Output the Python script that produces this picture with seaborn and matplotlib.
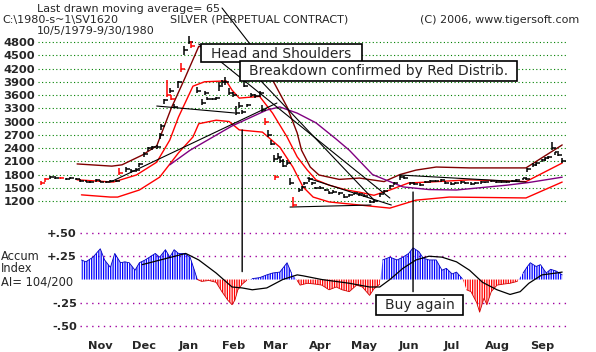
import numpy as np
import pandas as pd
import matplotlib
matplotlib.use("Agg")
import matplotlib.pyplot as plt
import matplotlib.dates as mdates
from matplotlib.patches import ConnectionPatch, Rectangle
from matplotlib.lines import Line2D
import seaborn as sns

sns.set_style("white")
plt.rcParams["font.family"] = ["DejaVu Sans"]
plt.rcParams["hatch.linewidth"] = 0.9

# ------------------------------------------------------------------ data
bar_dates = [
    "1979-10-05", "1979-10-08", "1979-10-11", "1979-10-15", "1979-10-18", "1979-10-22", "1979-10-25", "1979-10-29",
    "1979-11-01", "1979-11-05", "1979-11-08", "1979-11-12", "1979-11-15", "1979-11-19", "1979-11-22", "1979-11-26", "1979-11-28",
    "1979-12-03", "1979-12-06", "1979-12-10", "1979-12-12", "1979-12-15", "1979-12-18", "1979-12-21", "1979-12-24", "1979-12-26", "1979-12-27", "1979-12-29", "1979-12-31",
    "1980-01-02", "1980-01-03", "1980-01-05", "1980-01-08", "1980-01-10", "1980-01-12", "1980-01-15", "1980-01-17", "1980-01-21", "1980-01-24", "1980-01-26", "1980-01-28", "1980-01-31",
    "1980-02-03", "1980-02-05", "1980-02-07", "1980-02-09", "1980-02-12", "1980-02-15", "1980-02-17", "1980-02-19", "1980-02-21", "1980-02-22", "1980-02-24", "1980-02-27",
    "1980-03-01", "1980-03-04", "1980-03-06", "1980-03-08", "1980-03-10", "1980-03-12", "1980-03-14", "1980-03-15", "1980-03-17", "1980-03-18", "1980-03-20", "1980-03-23", "1980-03-25", "1980-03-27", "1980-03-31",
    "1980-04-02", "1980-04-04", "1980-04-07", "1980-04-09", "1980-04-11", "1980-04-15", "1980-04-18", "1980-04-21", "1980-04-24", "1980-04-28",
    "1980-05-01", "1980-05-05", "1980-05-08", "1980-05-12", "1980-05-15", "1980-05-19", "1980-05-22", "1980-05-26", "1980-05-29",
    "1980-06-02", "1980-06-05", "1980-06-09", "1980-06-12", "1980-06-16", "1980-06-19", "1980-06-23", "1980-06-26", "1980-06-30",
    "1980-07-03", "1980-07-07", "1980-07-10", "1980-07-14", "1980-07-17", "1980-07-21", "1980-07-24", "1980-07-28", "1980-07-31",
    "1980-08-04", "1980-08-07", "1980-08-11", "1980-08-14", "1980-08-18", "1980-08-21", "1980-08-25", "1980-08-28",
    "1980-09-02", "1980-09-04", "1980-09-05", "1980-09-09", "1980-09-11", "1980-09-15", "1980-09-17", "1980-09-19", "1980-09-22", "1980-09-24", "1980-09-26", "1980-09-29",
]
bar_high = [
    1650, 1720, 1760, 1760, 1740, 1720, 1750, 1720,
    1700, 1680, 1660, 1690, 1680, 1660, 1670, 1680, 1950,
    1960, 1920, 1950, 2060, 2300, 2420, 2440, 2460, 2750, 2950, 3500, 3940,
    3760, 3600, 3400, 3920, 4320, 4700, 4930, 4820, 3780, 3500, 3680, 3550, 3540,
    3560, 3900, 3950, 4000, 3750, 3660, 3350, 3440, 3260, 3940, 3400, 3640,
    3620, 3680, 3380, 3080, 2800, 2580, 2240, 1790, 2290, 2200, 2150, 2130, 1720, 1290, 1500,
    1540, 1640, 1740, 1640, 1520, 1530, 1480, 1420, 1440, 1400,
    1360, 1350, 1390, 1380, 1360, 1230, 1220, 1380, 1450,
    1560, 1630, 1790, 1760, 1630, 1620, 1600, 1660, 1680,
    1680, 1700, 1650, 1630, 1640, 1650, 1640, 1620, 1640,
    1650, 1640, 1670, 1650, 1660, 1650, 1680, 1690,
    1730, 1720, 1950, 2050, 2080, 2150, 2200, 2220, 2540, 2320, 2280, 2170,
]
bar_low = [
    1560, 1640, 1700, 1710, 1690, 1680, 1700, 1670,
    1640, 1620, 1610, 1630, 1620, 1600, 1620, 1630, 1800,
    1860, 1840, 1860, 1980, 2200, 2340, 2360, 2380, 2600, 2800, 3400, 3560,
    3640, 3480, 3300, 3760, 4120, 4500, 4750, 4660, 3640, 3380, 3600, 3480, 3480,
    3480, 3700, 3820, 3830, 3600, 3560, 3150, 3300, 3180, 3780, 3330, 3560,
    3540, 3560, 3220, 2920, 2650, 2470, 2080, 1680, 2150, 2050, 1970, 2010, 1560, 1065, 1400,
    1480, 1560, 1630, 1560, 1470, 1470, 1420, 1360, 1380, 1340,
    1270, 1290, 1330, 1320, 1300, 1150, 1150, 1300, 1380,
    1480, 1560, 1680, 1690, 1560, 1560, 1540, 1600, 1610,
    1620, 1640, 1590, 1570, 1580, 1590, 1590, 1570, 1580,
    1590, 1600, 1620, 1600, 1610, 1610, 1620, 1640,
    1670, 1680, 1860, 1970, 1990, 2080, 2100, 2150, 2350, 2250, 2220, 2060,
]
bar_close = [
    1600, 1700, 1740, 1730, 1720, 1700, 1730, 1690,
    1660, 1640, 1630, 1670, 1640, 1620, 1650, 1660, 1830,
    1920, 1870, 1900, 2040, 2260, 2400, 2420, 2420, 2700, 2900, 3480, 3600,
    3700, 3500, 3340, 3900, 4200, 4620, 4800, 4700, 3700, 3420, 3650, 3520, 3500,
    3530, 3800, 3900, 3900, 3650, 3600, 3200, 3350, 3220, 3800, 3370, 3600,
    3580, 3650, 3250, 3000, 2700, 2500, 2150, 1750, 2200, 2100, 2000, 2050, 1600, 1100, 1450,
    1520, 1600, 1700, 1600, 1500, 1500, 1450, 1380, 1400, 1380,
    1300, 1330, 1380, 1350, 1320, 1180, 1200, 1350, 1420,
    1530, 1600, 1750, 1720, 1600, 1590, 1570, 1630, 1650,
    1660, 1680, 1610, 1590, 1610, 1620, 1610, 1590, 1610,
    1620, 1620, 1650, 1630, 1640, 1630, 1660, 1670,
    1720, 1710, 1920, 2020, 2050, 2120, 2180, 2200, 2400, 2300, 2250, 2100,
]
red_bar_dates = ["1979-10-05", "1979-10-08", "1979-10-18", "1979-11-28", "1979-12-31", "1980-01-03",
                 "1980-01-10", "1980-01-17", "1980-03-08", "1980-03-15", "1980-03-27"]

# upper band (maroon)
upper_dates = ["1979-10-30", "1979-11-23", "1979-11-30", "1979-12-14", "1979-12-24", "1980-01-03", "1980-01-12",
               "1980-01-22", "1980-02-02", "1980-02-19", "1980-03-04", "1980-03-13", "1980-03-23", "1980-03-30",
               "1980-04-02", "1980-04-08", "1980-04-14", "1980-04-28", "1980-05-12", "1980-05-29", "1980-06-09",
               "1980-06-20", "1980-07-04", "1980-07-27", "1980-09-04", "1980-09-16", "1980-09-29"]
upper_vals = [2040, 1990, 2020, 2240, 2450, 3300, 3950, 4700, 4650, 4450, 4150, 3940, 3330, 2740,
              2350, 1970, 1790, 1690, 1720, 1640, 1800, 1900, 1970, 1950, 1950, 2200, 2470]
# moving average (red)
ma_dates = ["1979-10-30", "1979-11-24", "1979-12-10", "1979-12-24", "1980-01-02", "1980-01-08", "1980-01-18",
            "1980-01-26", "1980-02-10", "1980-02-14", "1980-02-19", "1980-03-04", "1980-03-13", "1980-03-23",
            "1980-03-30", "1980-04-06", "1980-04-12", "1980-04-21", "1980-05-03", "1980-05-12", "1980-05-22",
            "1980-06-02", "1980-06-15", "1980-06-29", "1980-07-27", "1980-09-04", "1980-09-29"]
ma_vals = [1680, 1630, 1790, 2080, 2580, 3100, 3800, 3900, 3920, 3710, 3530, 3570, 3190, 2650,
           2200, 1900, 1680, 1560, 1450, 1400, 1330, 1450, 1610, 1630, 1680, 1640, 2060]
# lower band (red)
lower_dates = ["1979-11-02", "1979-11-22", "1979-11-27", "1979-12-12", "1979-12-26", "1980-01-08", "1980-01-18",
               "1980-01-22", "1980-02-03", "1980-02-12", "1980-02-19", "1980-03-06", "1980-03-18", "1980-03-27",
               "1980-04-03", "1980-04-10", "1980-04-21", "1980-05-12", "1980-06-02", "1980-06-20", "1980-07-13",
               "1980-09-04", "1980-09-29"]
lower_vals = [1340, 1290, 1290, 1450, 1740, 2290, 2650, 2950, 3030, 3000, 2810, 2760, 2420, 1970,
              1520, 1290, 1180, 1110, 1040, 1220, 1290, 1270, 1630]
# 65-day moving average (purple)
ma65_dates = ["1980-01-02", "1980-01-16", "1980-02-14", "1980-03-09", "1980-03-18", "1980-03-30", "1980-04-12",
              "1980-04-26", "1980-05-05", "1980-05-21", "1980-06-11", "1980-06-29", "1980-07-18", "1980-08-22",
              "1980-09-06", "1980-09-29"]
ma65_vals = [2020, 2350, 2900, 3260, 3330, 3190, 2970, 2600, 2350, 1800, 1520, 1460, 1450, 1560, 1620, 1740]

# hand-drawn trend lines: (start date, start price, end date, end price)
trend_lines = [
    ("1980-01-22", 4755, "1980-06-02", 1268),
    ("1980-03-05", 3917, "1980-05-22", 1223),
    ("1979-11-22", 1630, "1980-03-16", 3419),
    ("1979-12-24", 3351, "1980-02-16", 3193),
    ("1980-03-25", 1064, "1980-05-20", 1110),
    ("1980-04-06", 1721, "1980-06-03", 1110),
    ("1980-06-09", 1789, "1980-09-04", 1630),
]

# Accumulation index
ai_dates = ["1979-11-02", "1979-11-05", "1979-11-10", "1979-11-15", "1979-11-18", "1979-11-22", "1979-11-25",
            "1979-11-29", "1979-12-02", "1979-12-05", "1979-12-09", "1979-12-12", "1979-12-16", "1979-12-19",
            "1979-12-23", "1979-12-26", "1979-12-30", "1980-01-02", "1980-01-05", "1980-01-08", "1980-01-12",
            "1980-01-16", "1980-01-19", "1980-01-21", "1980-01-24", "1980-01-29", "1980-02-03", "1980-02-07",
            "1980-02-11", "1980-02-14", "1980-02-16", "1980-02-18", "1980-02-21", "1980-02-24", "1980-02-28",
            "1980-03-04", "1980-03-09", "1980-03-13", "1980-03-18", "1980-03-23", "1980-03-26", "1980-03-30",
            "1980-04-01", "1980-04-06", "1980-04-12", "1980-04-16", "1980-04-21", "1980-04-26", "1980-04-30",
            "1980-05-05", "1980-05-10", "1980-05-14", "1980-05-19", "1980-05-22", "1980-05-26", "1980-05-28",
            "1980-06-02", "1980-06-07", "1980-06-11", "1980-06-15", "1980-06-18", "1980-06-22", "1980-06-25",
            "1980-06-29", "1980-07-04", "1980-07-08", "1980-07-11", "1980-07-15", "1980-07-18", "1980-07-22",
            "1980-07-25", "1980-07-28", "1980-08-01", "1980-08-03", "1980-08-06", "1980-08-08", "1980-08-11",
            "1980-08-15", "1980-08-19", "1980-08-24", "1980-08-29", "1980-09-02", "1980-09-05", "1980-09-07",
            "1980-09-11", "1980-09-14", "1980-09-18", "1980-09-21", "1980-09-25", "1980-09-29"]
ai_vals = [0.21, 0.19, 0.24, 0.33, 0.21, 0.13, 0.28,
           0.18, 0.19, 0.18, 0.10, 0.18, 0.21, 0.24,
           0.28, 0.24, 0.32, 0.24, 0.32, 0.28, 0.28,
           0.24, 0.10, 0.00, -0.02, -0.01, -0.03, -0.13,
           -0.22, -0.27, -0.22, -0.11, -0.05, -0.01, 0.01,
           0.02, 0.05, 0.07, 0.08, 0.18, 0.07, -0.01,
           -0.06, -0.04, -0.05, -0.06, -0.11, -0.08, -0.11,
           -0.13, -0.06, -0.08, -0.17, -0.10, -0.05, 0.21,
           0.24, 0.21, 0.24, 0.28, 0.34, 0.30, 0.23,
           0.21, 0.21, 0.10, 0.12, 0.06, 0.08, 0.01,
           -0.11, -0.13, -0.25, -0.35, -0.20, -0.27, -0.13,
           -0.06, -0.05, -0.04, -0.02, 0.07, 0.14, 0.18,
           0.14, 0.16, 0.07, 0.11, 0.09, 0.05]
ai_ma_dates = ["1979-12-14", "1980-01-13", "1980-01-22", "1980-02-03", "1980-02-14", "1980-02-21", "1980-02-28",
               "1980-03-09", "1980-03-20", "1980-03-30", "1980-04-03", "1980-04-16", "1980-05-05", "1980-05-19",
               "1980-05-26", "1980-06-02", "1980-06-11", "1980-06-20", "1980-06-29", "1980-07-08", "1980-07-18",
               "1980-07-27", "1980-08-05", "1980-08-15", "1980-08-24", "1980-08-31", "1980-09-06", "1980-09-15",
               "1980-09-25", "1980-09-29"]
ai_ma_vals = [0.16, 0.28, 0.21, 0.07, -0.08, -0.09, -0.11, -0.09, 0.00, 0.05, 0.04, 0.00, -0.04, -0.08,
              -0.08, 0.00, 0.12, 0.21, 0.25, 0.24, 0.19, 0.10, -0.03, -0.11, -0.16, -0.13, -0.04, 0.05,
              0.07, 0.08]

price_ticks = [1200, 1500, 1800, 2100, 2400, 2700, 3000, 3300, 3600, 3900, 4200, 4500, 4800]
ai_ticks = [-0.50, -0.25, 0.25, 0.50]
ai_tick_labels = ["-.50", "-.25", "+.25", "+.50"]

# ------------------------------------------------------------------ layout
W, H = 596, 352
fig = plt.figure(figsize=(W / 100, H / 100), dpi=100)
fig.patch.set_facecolor("white")


def fx(x):
    return x / W


def fy(y):
    return 1 - y / H


ax_p = fig.add_axes([fx(38), fy(215), (567 - 38) / W, (215 - 30) / H])
ax_a = fig.add_axes([fx(80), fy(335), (567 - 80) / W, (335 - 225) / H])

ORIGIN = pd.Timestamp("1979-11-01")
PX_PER_DAY = 1.448


def px_date(px):
    return mdates.date2num(ORIGIN + pd.Timedelta(days=(px - 80) / PX_PER_DAY))


ax_p.set_xlim(px_date(38), px_date(567))
ax_a.set_xlim(px_date(80), px_date(567))
ax_p.set_ylim(884, 5072)
ax_a.set_ylim(-0.595, 0.585)

for ax in (ax_p, ax_a):
    for s in ax.spines.values():
        s.set_visible(False)
    ax.set_facecolor("none")

# ------------------------------------------------------------------ price panel
ax_p.set_yticks(price_ticks)
ax_p.set_yticklabels([str(t) for t in price_ticks], fontsize=8.2, fontweight="bold")
ax_p.tick_params(axis="y", length=0, pad=2.2)
ax_p.set_xticks([])
for t in price_ticks:
    ax_p.axhline(t, color="#008000", lw=0.8, ls=(0, (1, 2.2)), zorder=0)

bars = pd.DataFrame({"date": pd.to_datetime(bar_dates), "high": bar_high,
                     "low": bar_low, "close": bar_close})
bars["red"] = bars["date"].isin(pd.to_datetime(red_bar_dates))
for is_red, grp in bars.groupby("red"):
    col = "#ff0000" if is_red else "#000000"
    ax_p.vlines(grp["date"], grp["low"], grp["high"], colors=col, lw=1.1, zorder=4)
    ax_p.plot(grp["date"], grp["close"], ls="none", marker=1, ms=3, mew=1.1, color=col, zorder=4)

line_specs = [
    (upper_dates, upper_vals, "#800000"),
    (ma_dates, ma_vals, "#ff0000"),
    (lower_dates, lower_vals, "#ff0000"),
    (ma65_dates, ma65_vals, "#800080"),
]
for d, v, c in line_specs:
    sns.lineplot(x=pd.to_datetime(d), y=v, ax=ax_p, color=c, lw=1.0, estimator=None, sort=False, zorder=3)

for d0, p0, d1, p1 in trend_lines:
    sns.lineplot(x=pd.to_datetime([d0, d1]), y=[p0, p1], ax=ax_p, color="black", lw=0.8,
                 estimator=None, sort=False, zorder=3)
ax_p.set_xlabel("")
ax_p.set_ylabel("")

# ------------------------------------------------------------------ AI panel
ai_df = pd.DataFrame({"date": pd.to_datetime(ai_dates), "ai": ai_vals})
xd = mdates.date2num(ai_df["date"])
yv = ai_df["ai"].to_numpy()
ax_a.fill_between(xd, 0, yv, where=yv >= 0, interpolate=True, facecolor="none",
                  edgecolor="#0000ff", hatch="|||||||", lw=0, zorder=2)
ax_a.fill_between(xd, 0, yv, where=yv <= 0, interpolate=True, facecolor="none",
                  edgecolor="#ff0000", hatch="|||||||", lw=0, zorder=2)
ax_a.plot(xd, np.where(yv >= 0, yv, np.nan), color="#0000c0", lw=0.6, zorder=3)
ax_a.plot(xd, np.where(yv <= 0, yv, np.nan), color="#d00000", lw=0.6, zorder=3)
sns.lineplot(x=pd.to_datetime(ai_ma_dates), y=ai_ma_vals, ax=ax_a, color="black", lw=0.9,
             estimator=None, sort=False, zorder=4)
ax_a.set_xlabel("")
ax_a.set_ylabel("")

for t in ai_ticks:
    ax_a.axhline(t, color="#a000a0", lw=1.0, ls=(0, (1, 3.2)), zorder=0)
ax_a.set_yticks(ai_ticks)
ax_a.set_yticklabels(ai_tick_labels, fontsize=8.2, fontweight="bold")
ax_a.tick_params(axis="y", length=0, pad=2.2)

month_starts = pd.date_range("1979-11-01", "1980-09-01", freq="MS")
month_mids = month_starts + pd.Timedelta(days=14)
ax_a.set_xticks(mdates.date2num(month_starts))
ax_a.set_xticklabels([])
ax_a.set_xticks(mdates.date2num(month_mids), minor=True)
ax_a.set_xticklabels([d.strftime("%b") for d in month_mids], minor=True, fontsize=8.2, fontweight="bold")
ax_a.tick_params(axis="x", which="major", length=9.4, width=1.0, color="#808000", direction="out")
ax_a.tick_params(axis="x", which="minor", length=0, pad=4)

# ------------------------------------------------------------------ connectors
for d, price, ai in [("1980-02-21", 2810, 0.085), ("1980-06-18", 1404, -0.13)]:
    xnum = mdates.date2num(pd.Timestamp(d))
    con = ConnectionPatch(xyA=(xnum, price), coordsA=ax_p.transData,
                          xyB=(xnum, ai), coordsB=ax_a.transData, color="black", lw=1.0, zorder=5)
    fig.add_artist(con)

# ------------------------------------------------------------------ texts
fig.text(fx(37), fy(9), "Last drawn moving average= 65", fontsize=8, va="center", ha="left")
fig.text(fx(2), fy(20), "C:\\1980-s~1\\SV1620", fontsize=8, va="center", ha="left")
fig.text(fx(37), fy(31), "10/5/1979-9/30/1980", fontsize=8, va="center", ha="left")
fig.text(fx(170), fy(20), "SILVER (PERPETUAL CONTRACT)", fontsize=8, va="center", ha="left")
fig.text(fx(420), fy(20), "(C) 2006, www.tigersoft.com", fontsize=8, va="center", ha="left")
fig.add_artist(Line2D([fx(222), fx(250)], [fy(8), fy(44)], transform=fig.transFigure, color="black", lw=0.8))

for (x0, y0, x1, y1, label) in [(201, 44, 362, 62, "Head and Shoulders"),
                                (240, 61, 517, 81, "Breakdown confirmed by Red Distrib."),
                                (376, 295, 463, 315, "Buy again")]:
    rect = Rectangle((fx(x0), fy(y1)), (x1 - x0) / W, (y1 - y0) / H, transform=fig.transFigure,
                     facecolor="white", edgecolor="black", lw=1.2, zorder=10)
    fig.add_artist(rect)
    fig.text(fx((x0 + x1) / 2), fy((y0 + y1) / 2 + 0.5), label, fontsize=10, ha="center", va="center", zorder=11)

fig.text(fx(1), fy(275), "Accum\nIndex", fontsize=8.3, ha="left", va="bottom", linespacing=0.93)
fig.text(fx(1), fy(275.5), "AI= 104/200", fontsize=8.3, ha="left", va="top")

fig.savefig("out.png", dpi=100, facecolor="white")
